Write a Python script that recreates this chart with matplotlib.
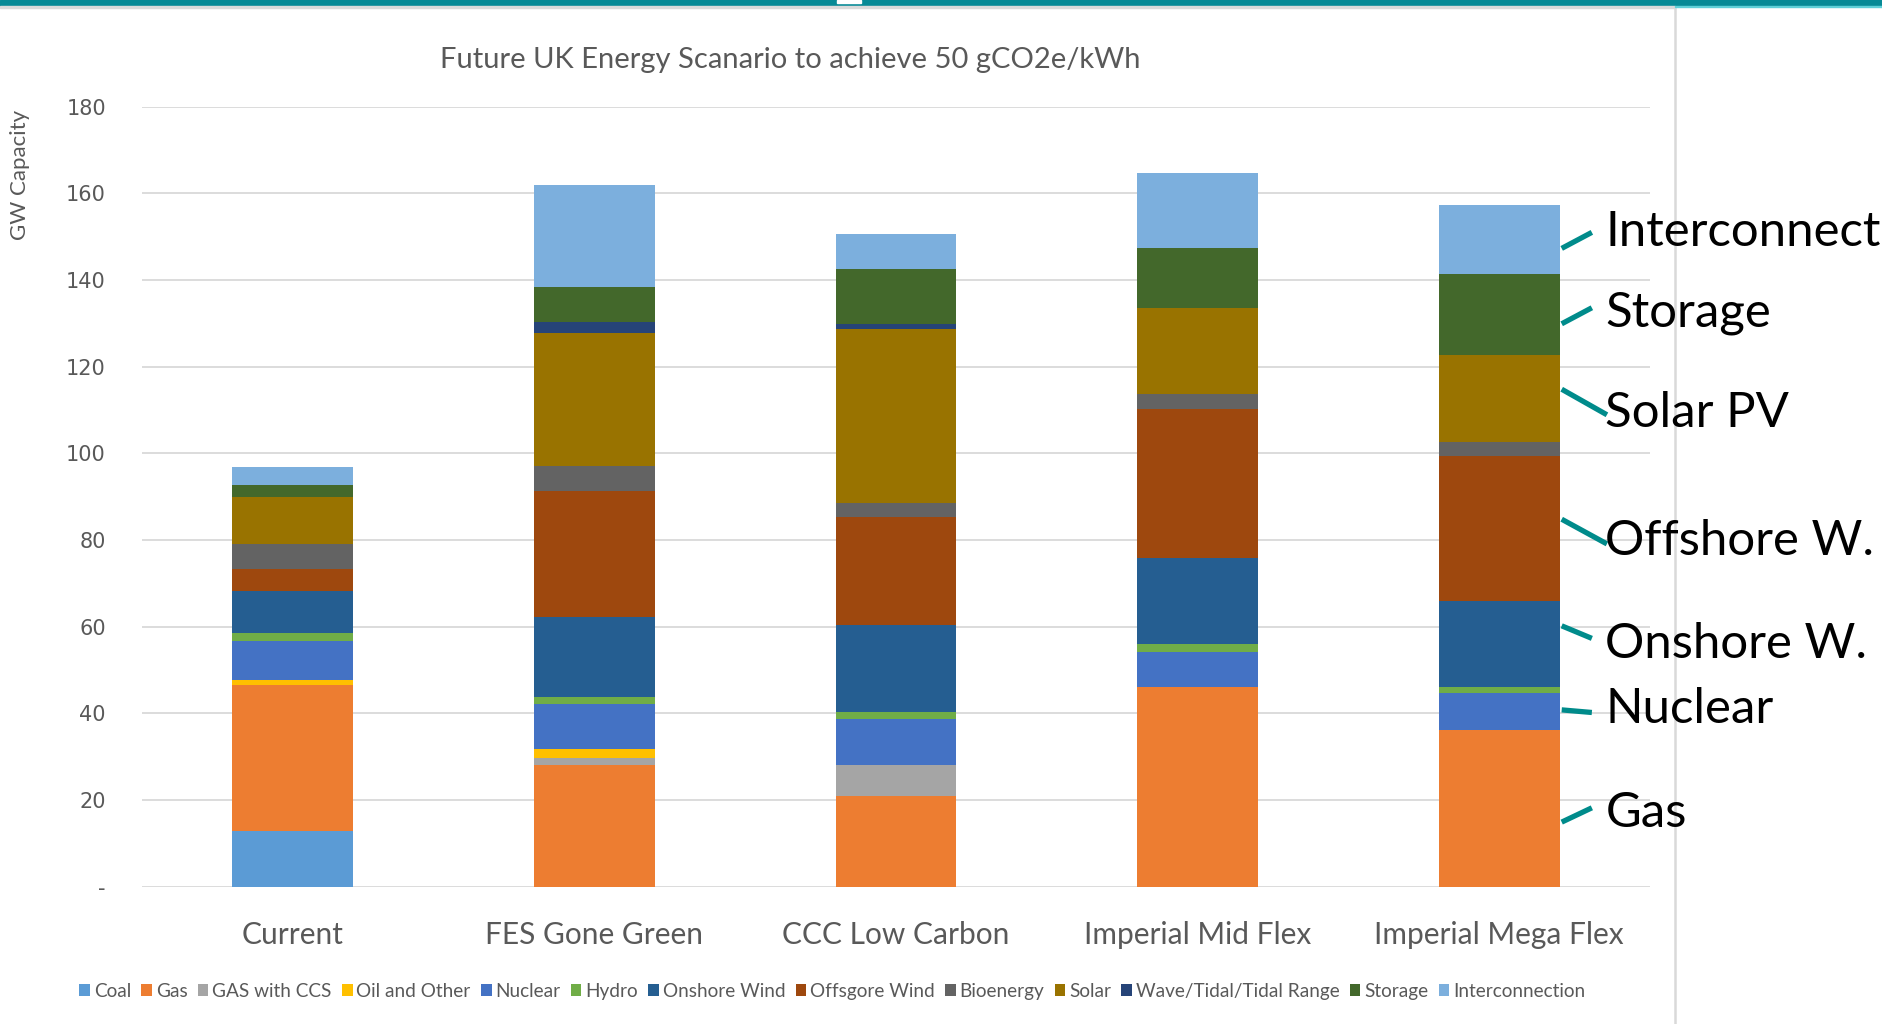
import numpy as np
import matplotlib
matplotlib.use("Agg")
import matplotlib.pyplot as plt
from matplotlib.lines import Line2D
from matplotlib.patches import Rectangle

# scenarios and installed capacity (GW) per technology
scenarios = ["Current", "FES Gone Green", "CCC Low Carbon",
             "Imperial Mid Flex", "Imperial Mega Flex"]

coal = [12.9, 0, 0, 0, 0]
gas = [33.6, 28.0, 20.9, 46.1, 36.2]
gas_ccs = [0, 1.7, 7.1, 0, 0]
oil_other = [1.2, 2.1, 0, 0, 0]
nuclear = [9.1, 10.3, 10.8, 8.1, 8.4]
hydro = [1.7, 1.7, 1.6, 1.7, 1.4]
onshore = [9.7, 18.4, 20.0, 20.0, 20.0]
offshore = [5.1, 29.0, 24.8, 34.3, 33.3]
bioenergy = [5.7, 5.9, 3.3, 3.5, 3.4]
solar = [11.0, 30.7, 40.1, 19.9, 20.0]
wave_tidal = [0, 2.5, 1.3, 0, 0]
storage = [2.8, 8.2, 12.6, 13.9, 18.6]
interconnection = [4.0, 23.4, 8.1, 17.1, 16.0]

series_names = ["Coal", "Gas", "GAS with CCS", "Oil and Other", "Nuclear",
                "Hydro", "Onshore Wind", "Offsgore Wind", "Bioenergy",
                "Solar", "Wave/Tidal/Tidal Range", "Storage", "Interconnection"]
series_values = [coal, gas, gas_ccs, oil_other, nuclear, hydro, onshore,
                 offshore, bioenergy, solar, wave_tidal, storage,
                 interconnection]
series_colors = ["#5B9BD5", "#ED7D31", "#A5A5A5", "#FFC000", "#4472C4",
                 "#70AD47", "#255E91", "#9E480E", "#636363", "#997300",
                 "#264478", "#43682B", "#7CAFDD"]

y_ticks = [0, 20, 40, 60, 80, 100, 120, 140, 160, 180]
y_tick_labels = ["-", "20", "40", "60", "80", "100", "120", "140", "160", "180"]

# callouts on the right hand side
callout_labels = ["Interconnect", "Storage", "Solar PV", "Offshore W.",
                  "Onshore W.", "Nuclear", "Gas"]

GREY_TXT = "#595959"
TEAL = "#008B8B"

plt.rcParams["font.family"] = ["Lato", "DejaVu Sans"]

fig = plt.figure(figsize=(18.83, 10.24), dpi=100)
ax = fig.add_axes([0.0754, 0.1341, 0.8009, 0.7617])

x = np.arange(len(scenarios))
bottom = np.zeros(len(scenarios))
for name, vals, col in zip(series_names, series_values, series_colors):
    vals = np.array(vals, dtype=float)
    ax.bar(x, vals, width=0.4, bottom=bottom, color=col, label=name,
           zorder=3, linewidth=0)
    bottom += vals

ax.set_xlim(-0.5, len(scenarios) - 0.5)
ax.set_ylim(0, 180)
ax.set_yticks(y_ticks)
ax.set_yticklabels(y_tick_labels, fontfamily="DejaVu Sans", fontsize=15,
                   color=GREY_TXT)
ax.set_xticks(x)
ax.set_xticklabels(scenarios, fontsize=21.5, color=GREY_TXT)
ax.tick_params(axis="y", length=0, pad=26)
ax.tick_params(axis="x", length=0, pad=25)
ax.grid(axis="y", color="#D9D9D9", linewidth=1.3, zorder=0)
for side in ["top", "right", "left", "bottom"]:
    ax.spines[side].set_visible(False)

ax.set_title("Future UK Energy Scanario to achieve 50 gCO2e/kWh",
             fontsize=21, color=GREY_TXT, pad=28, x=0.43)
fig.text(0.0106, 0.829, "GW Capacity", rotation=90, ha="center",
         va="center", fontsize=16, color=GREY_TXT)

leg = fig.legend(loc="center", bbox_to_anchor=(0.442, 0.032), ncol=13,
                 frameon=False, fontsize=13.7, handlelength=0.55,
                 handleheight=0.6, handletextpad=0.2, columnspacing=0.55,
                 labelcolor=GREY_TXT)

# callout lines and text, anchored next to the last bar
line_start = [(4.207, 147.3), (4.207, 129.9), (4.207, 114.8), (4.207, 84.8),
              (4.207, 60.2), (4.207, 40.8), (4.207, 14.9)]
line_end = [(4.307, 151.0), (4.307, 133.6), (4.357, 108.9), (4.357, 79.1),
            (4.307, 57.3), (4.307, 40.2), (4.307, 18.2)]
text_y = [151.0, 132.5, 109.3, 79.8, 56.0, 41.0, 17.1]
for lab, p0, p1, ty in zip(callout_labels, line_start, line_end, text_y):
    ax.add_line(Line2D([p0[0], p1[0]], [p0[1], p1[1]], color=TEAL,
                       linewidth=3.8, clip_on=False, zorder=6,
                       solid_capstyle="butt"))
    ax.text(4.352, ty, lab, fontsize=35.4, color="black", ha="left",
            va="center", clip_on=False, zorder=7)

# slide frame decorations
H = 1024.0
W = 1883.0
fig.add_artist(Line2D([1675 / W, 1675 / W], [0, 1 - 7 / H],
                      color="#D9D9D9", linewidth=1.8, zorder=0))
fig.add_artist(Rectangle((0, 1 - 6 / H), 1, 6 / H, color="#078A96",
                         transform=fig.transFigure, zorder=10))
fig.add_artist(Rectangle((837 / W, 1 - 3 / H), 24 / W, 3 / H, color="white",
                         transform=fig.transFigure, zorder=11))
fig.add_artist(Rectangle((0, 1 - 8 / H), 1675 / W, 2 / H, color="#DADADA",
                         transform=fig.transFigure, zorder=10))
fig.add_artist(Rectangle((1675 / W, 1 - 7 / H), 1 - 1675 / W, 1.2 / H,
                         color="#5FD0D8", transform=fig.transFigure,
                         zorder=10))

fig.savefig("out.png", dpi=100)
plt.close(fig)
